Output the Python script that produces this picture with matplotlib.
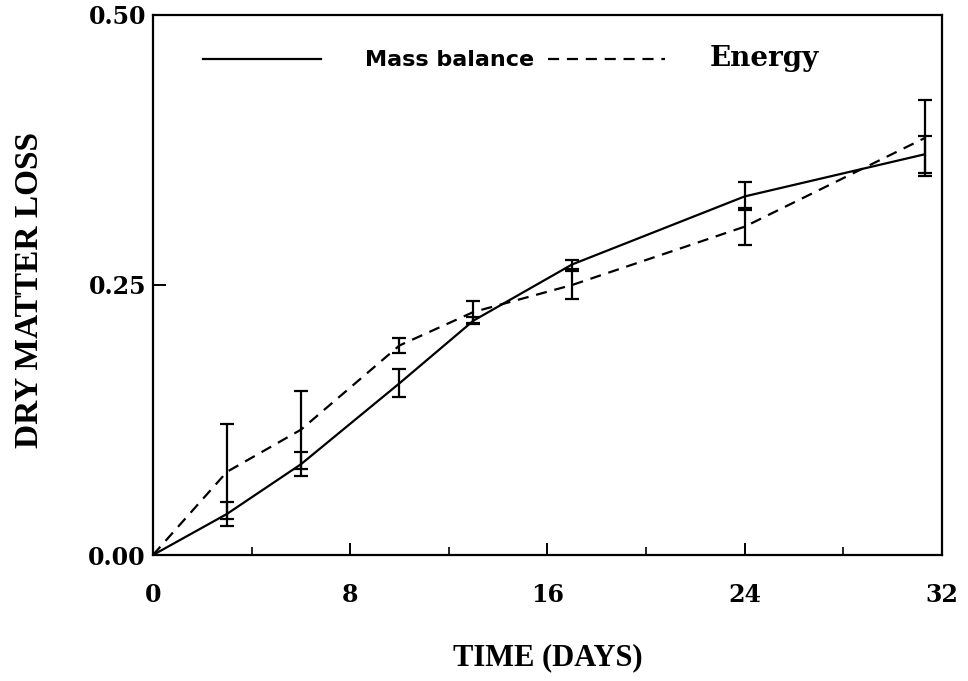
import matplotlib
matplotlib.use("Agg")
import matplotlib.pyplot as plt
from matplotlib.ticker import MultipleLocator

# Data
days = [0, 3, 6, 10, 13, 17, 24, 31.3]
mass_balance = [0.0, 0.038, 0.084, 0.159, 0.217, 0.269, 0.332, 0.371]
mass_err = [0.0, 0.011, 0.011, 0.013, 0.003, 0.004, 0.013, 0.017]
energy = [0.0, 0.077, 0.116, 0.194, 0.225, 0.250, 0.304, 0.386]
energy_err = [0.0, 0.044, 0.036, 0.007, 0.010, 0.013, 0.017, 0.035]

x_ticks = [0, 8, 16, 24, 32]
y_ticks = [0.0, 0.25, 0.5]
y_tick_labels = ["0.00", "0.25", "0.50"]

serif = "Liberation Serif"
tick_font = "DejaVu Serif"

fig = plt.figure(figsize=(9.68, 6.81), dpi=100)
ax = fig.add_axes([0.158, 0.185, 0.815, 0.793])

# Lines
ax.plot(days, mass_balance, color="black", lw=1.6, label="Mass balance")
ax.plot(days, energy, color="black", lw=1.6, linestyle=(0, (5, 3.5)), label="Energy")

# Error bars (solid for both series), skip the origin
ax.errorbar(days[1:], mass_balance[1:], yerr=mass_err[1:], fmt="none",
            ecolor="black", elinewidth=1.6, capsize=5, capthick=1.6)
ax.errorbar(days[1:], energy[1:], yerr=energy_err[1:], fmt="none",
            ecolor="black", elinewidth=1.6, capsize=5, capthick=1.6)

ax.set_xlim(0, 32)
ax.set_ylim(0, 0.5)

ax.set_xticks(x_ticks)
ax.set_xticklabels([str(t) for t in x_ticks])
ax.xaxis.set_minor_locator(MultipleLocator(4))
ax.set_yticks(y_ticks)
ax.set_yticklabels(y_tick_labels)

ax.tick_params(axis="both", which="major", direction="in", length=9, width=1.4,
               labelsize=17)
ax.tick_params(axis="x", which="major", pad=20)
ax.tick_params(axis="y", which="major", pad=5)
ax.tick_params(axis="x", which="minor", direction="in", length=6, width=1.2)
for lab in ax.get_xticklabels() + ax.get_yticklabels():
    lab.set_fontfamily(tick_font)
    lab.set_fontweight("bold")

for sp in ax.spines.values():
    sp.set_linewidth(1.6)

ax.set_xlabel("TIME (DAYS)", fontsize=22, fontfamily=serif, fontweight="bold",
              labelpad=26)
ax.set_ylabel("DRY MATTER LOSS", fontsize=24, fontfamily=serif, fontweight="bold")
ax.yaxis.set_label_coords(-0.137, 0.49)

leg = ax.legend(loc="upper left", bbox_to_anchor=(0.052, 0.96), ncol=2,
                frameon=False, fontsize=16, handlelength=5.3, handletextpad=2.0,
                columnspacing=0.6, borderaxespad=0)
texts = leg.get_texts()
texts[0].set_fontfamily("DejaVu Sans")
texts[0].set_fontweight("bold")
texts[1].set_fontfamily("DejaVu Serif")
texts[1].set_fontweight("bold")
texts[1].set_fontsize(20)

fig.savefig("out.png", dpi=100)
